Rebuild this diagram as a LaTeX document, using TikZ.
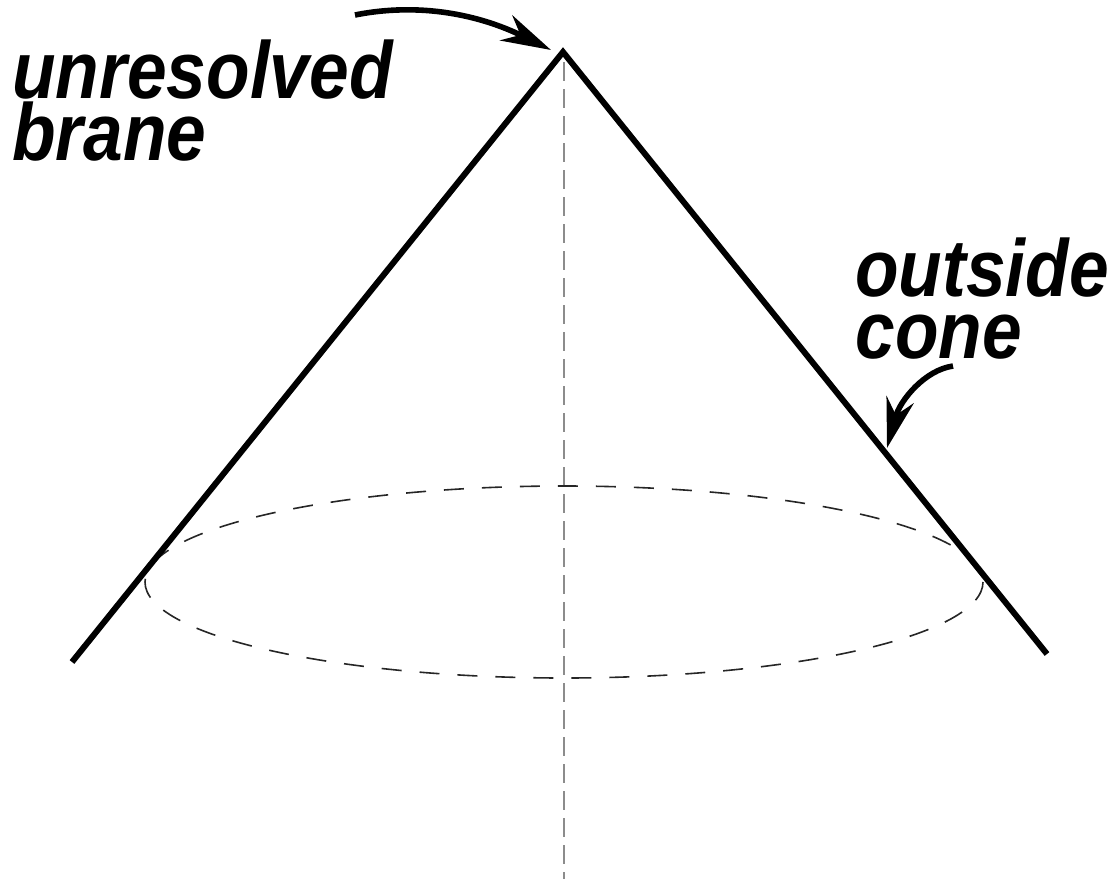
\documentclass[tikz,border=0pt]{standalone}
\usepackage{fontspec}
\newfontfamily\labelfont{Liberation Sans}[FakeStretch=0.88]
\usetikzlibrary{arrows.meta}

\begin{document}
\begin{tikzpicture}[x=0.5pt,y=-0.5pt,
  coneline/.style={line width=3pt, line join=miter},
  axisdash/.style={black!45, line width=1pt, dash pattern=on 9.5pt off 4pt},
  ringdash/.style={black!85, line width=0.8pt, dash pattern=on 10pt off 9pt},
  callout/.style={line width=2.8pt, -{Stealth[length=25pt,width=14pt,inset=8pt]}},
  labeltext/.style={font=\labelfont\bfseries\itshape\fontsize{40.5}{31}\selectfont,
    align=left, inner sep=0pt}]
  \useasboundingbox (0,0) rectangle (1114,879);
  % cone outline
  \coordinate (apex) at (563,52);
  \coordinate (baseL) at (72,662);
  \coordinate (baseR) at (1047,654);
  \coordinate (axisbot) at (564,879);
  \draw[axisdash] (564,62) -- (axisbot);
  \draw[ringdash] (564,582) ellipse [x radius=419, y radius=96];
  \draw[coneline] (baseL) -- (apex) -- (baseR);

  % labels (base = last line)
  \node[labeltext, anchor=base west] (unres) at (12,160) {unresolved\\brane};
  \node[labeltext, anchor=base west] (outs) at (855,358) {outside\\cone};

  % callout arrows
  \coordinate (unresfrom) at (355,15);
  \coordinate (unresto) at (551,50);
  \coordinate (outsfrom) at (953,366);
  \coordinate (outsto) at (887,448);
  \draw[callout] (unresfrom) .. controls (420,2) and (480,15) .. (unresto);
  \draw[callout] (outsfrom) .. controls (925,370) and (900,400) .. (outsto);
\end{tikzpicture}
\end{document}
